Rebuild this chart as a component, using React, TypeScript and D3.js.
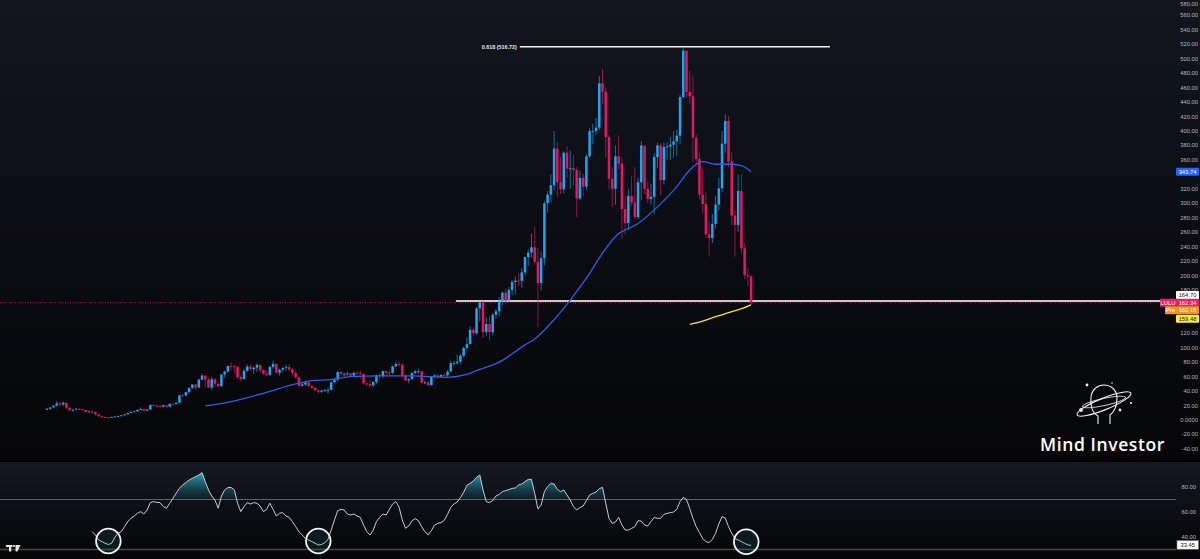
import React from 'react';
import * as d3 from 'd3';

// LULU monthly candles, Jul 2007 .. Sep 2025 (open = previous close)
const firstOpen = 14.0;
const closes = [
  15.6, 17.5, 19.8, 23.0, 21.5, 23.7,
  17.0, 13.5, 14.2, 15.5, 15.0, 13.8, 11.4, 11.8, 11.2, 8.0, 5.3, 4.0,
  3.5, 3.3, 4.3, 4.9, 5.6, 6.5, 7.9, 9.6, 11.3, 12.0, 13.9, 15.1,
  12.8, 14.4, 20.7, 20.0, 19.6, 18.3, 20.4, 18.4, 22.4, 22.2, 23.8, 34.2,
  33.8, 38.5, 44.5, 49.0, 45.0, 55.9, 61.5, 56.0, 45.0, 56.4, 50.0, 46.7,
  63.0, 67.0, 74.7, 74.5, 74.0, 59.3, 56.6, 68.0, 73.9, 70.5, 72.4, 76.2,
  68.9, 64.0, 62.4, 73.4, 77.7, 65.5, 69.6, 72.0, 73.1, 69.9, 65.0, 59.0,
  47.2, 49.2, 52.3, 47.0, 44.6, 40.9, 39.0, 40.6, 41.6, 41.8, 52.3, 55.8,
  66.5, 63.6, 63.9, 64.4, 61.5, 65.3, 64.7, 63.5, 50.7, 49.8, 48.0, 52.5,
  62.1, 60.7, 67.7, 65.6, 65.3, 74.4, 77.4, 76.4, 61.1, 54.7, 56.6, 65.0,
  67.4, 67.5, 51.9, 52.0, 48.2, 59.7, 61.8, 59.9, 62.3, 61.9, 67.0, 78.6,
  78.7, 80.7, 89.1, 99.8, 105.0, 124.8, 120.0, 154.4, 162.5, 121.7, 132.8, 121.6,
  145.7, 150.5, 163.9, 176.3, 165.3, 180.0, 191.0, 192.9, 192.5, 204.3, 225.5, 231.7,
  239.0, 219.0, 189.5, 224.0, 300.0, 312.0, 325.0, 375.6, 329.0, 319.3, 370.0, 348.0,
  348.4, 346.0, 306.6, 335.0, 323.0, 365.0, 399.9, 400.0, 404.7, 466.0, 454.4, 391.5,
  334.0, 320.0, 365.0, 355.0, 292.0, 272.6, 310.0, 301.0, 281.0, 329.0, 380.0, 320.0,
  306.0, 309.0, 364.0, 380.0, 332.0, 378.0, 378.6, 381.0, 385.6, 393.5, 447.0, 511.3,
  454.0, 448.0, 390.5, 361.0, 312.0, 299.0, 257.0, 252.0, 271.4, 298.1, 320.6, 382.4,
  414.0, 357.6, 283.0, 270.0, 317.0, 237.6, 200.6, 199.0, 162.34,
];
const highs = [
  16.2, 18.0, 20.5, 26.0, 24.5, 25.5,
  24.0, 17.5, 15.5, 17.0, 17.0, 15.8, 14.5, 13.0, 13.2, 11.5, 8.5, 5.8,
  4.6, 4.0, 4.6, 5.2, 6.0, 7.0, 8.4, 10.2, 12.0, 13.3, 15.0, 17.3,
  15.8, 14.8, 21.5, 22.0, 21.3, 20.8, 21.0, 20.8, 22.8, 23.3, 25.3, 35.0,
  36.0, 39.5, 45.0, 49.7, 49.8, 57.0, 64.2, 62.0, 58.5, 60.0, 58.0, 53.0,
  63.5, 68.5, 75.5, 79.6, 77.0, 72.0, 62.5, 71.0, 76.9, 77.0, 74.0, 78.5,
  76.5, 70.5, 68.2, 75.5, 82.5, 78.4, 71.0, 73.5, 76.5, 77.8, 71.8, 69.3,
  60.0, 52.0, 55.0, 53.5, 48.0, 46.0, 42.0, 42.5, 43.0, 45.0, 53.5, 58.5,
  67.0, 67.5, 66.0, 67.5, 64.5, 67.0, 67.5, 69.0, 64.5, 51.8, 55.0, 54.0,
  63.0, 65.0, 68.5, 68.0, 68.5, 75.0, 81.0, 81.0, 78.5, 63.0, 57.5, 66.7,
  69.0, 70.5, 67.0, 54.0, 54.5, 60.5, 63.5, 64.0, 63.5, 65.0, 69.0, 82.3,
  82.5, 90.5, 92.0, 101.5, 114.0, 130.0, 128.0, 157.0, 163.5, 165.0, 142.0, 144.0,
  148.0, 154.0, 170.0, 178.0, 182.0, 184.0, 194.0, 199.0, 204.0, 210.0, 226.5, 236.0,
  258.0, 267.0, 238.0, 233.0, 303.0, 317.0, 340.0, 399.9, 384.0, 364.0, 372.0, 379.0,
  373.0, 367.0, 350.0, 345.0, 341.0, 368.0, 404.0, 410.0, 418.0, 476.0, 485.8, 460.0,
  395.0, 350.0, 380.0, 394.0, 363.0, 310.0, 320.0, 337.0, 350.0, 335.0, 386.0, 379.0,
  330.0, 327.0, 369.0, 384.0, 383.0, 384.0, 384.0, 392.0, 400.0, 402.0, 450.0, 516.7,
  511.0, 483.0, 477.0, 395.0, 370.0, 348.0, 315.0, 275.0, 285.0, 310.0, 335.0, 400.0,
  423.0, 421.0, 370.0, 290.0, 340.0, 340.0, 245.0, 210.0, 200.0,
];
const lows = [
  13.8, 14.5, 16.8, 19.5, 18.5, 19.0,
  15.0, 12.5, 12.0, 13.6, 14.2, 13.0, 10.5, 10.5, 9.0, 6.0, 4.3, 3.3,
  3.1, 2.8, 2.9, 4.0, 4.6, 5.4, 6.3, 7.8, 9.4, 10.8, 11.8, 13.9,
  12.3, 12.4, 14.2, 18.6, 17.0, 16.2, 17.5, 17.6, 17.9, 20.5, 21.2, 23.5,
  31.5, 33.0, 36.8, 42.8, 42.0, 44.5, 54.7, 44.5, 44.0, 41.0, 45.0, 45.0,
  46.5, 59.0, 65.0, 68.3, 64.5, 56.4, 54.0, 56.0, 67.5, 68.3, 63.5, 66.5,
  66.0, 62.5, 61.2, 61.0, 71.0, 64.0, 61.5, 66.0, 68.0, 67.4, 61.6, 57.5,
  46.5, 46.3, 47.0, 45.5, 43.3, 40.4, 36.3, 37.5, 38.8, 36.3, 41.0, 51.0,
  53.5, 60.5, 60.3, 60.8, 59.0, 59.5, 61.5, 57.3, 48.7, 46.5, 44.5, 45.0,
  50.5, 56.0, 58.0, 61.5, 60.5, 63.5, 73.0, 74.0, 58.7, 54.1, 50.5, 55.4,
  63.0, 63.5, 49.0, 49.5, 47.0, 48.2, 58.7, 57.3, 59.3, 58.3, 59.7, 66.5,
  74.8, 76.5, 77.5, 86.5, 96.0, 106.0, 117.0, 118.0, 136.0, 113.5, 116.0, 110.0,
  117.0, 140.0, 143.0, 159.0, 161.0, 163.0, 173.0, 174.0, 185.0, 183.0, 200.0, 213.0,
  225.0, 215.0, 128.9, 179.0, 214.0, 287.0, 301.0, 318.0, 309.0, 313.0, 314.0, 335.0,
  320.0, 325.0, 281.0, 305.0, 310.0, 318.0, 363.0, 382.0, 395.0, 401.0, 437.0, 363.0,
  319.0, 295.0, 298.0, 347.0, 251.0, 257.0, 263.0, 296.0, 278.0, 278.0, 305.0, 313.0,
  300.0, 298.0, 285.0, 348.0, 311.0, 326.0, 360.0, 360.0, 363.0, 366.0, 382.0, 446.0,
  446.0, 438.0, 357.0, 352.0, 305.0, 287.0, 252.0, 226.0, 245.0, 265.0, 290.0, 315.0,
  370.0, 350.0, 270.0, 226.0, 260.0, 230.0, 195.0, 185.0, 159.9,
];

// RSI(14), first value at candle 14
const rsiStart = 14;
const rsiValues = [
  44.3, 41.6, 37.6, 36.3, 35, 34, 35, 39.7, 43, 44.3, 48.3, 52.3, 55, 56.8, 59, 60.3,
  58.4, 61.6, 67.5, 68.3, 67.7, 67.5, 64.3, 63, 67, 71, 75, 79, 81.6, 83.5, 85.6, 87,
  88.3, 89.6, 91.5, 84.3, 77.6, 72.8, 69.6, 63, 72.8, 77.6, 79.5, 79.7, 77.6, 67, 60.3, 64.3,
  67.5, 66.4, 67.5, 67, 64.8, 60.3, 62.1, 67, 62.1, 56.8, 59, 59.5, 56.8, 55.7, 52.3, 48.3,
  44.3, 41.6, 39, 37.6, 36.3, 35, 33.6, 34, 35.5, 38, 45.6, 53.6, 61, 62.1, 61.6, 58.4,
  57.6, 58.4, 56.8, 55.7, 49.6, 44.3, 41.6, 45.6, 52.3, 55.7, 58.4, 57.6, 62.1, 66.4, 68.3,
  64, 53.6, 47, 48.8, 53, 54.7, 53, 48.3, 44.3, 41.6, 45.1, 49.6, 50.9, 51.5, 53.3, 58.1,
  63.7, 66.4, 68, 71.5, 75.7, 81.3, 82.9, 84.8, 87.7, 89.6, 77.6, 68.3, 67.5, 69.1, 72.8, 74.1,
  76.3, 77.1, 77.9, 78.9, 79.2, 81.6, 82.4, 84.3, 86.1, 86.1, 74.9, 62.4, 65.6, 76.3, 80.3, 82.9,
  82.4, 78.1, 76.3, 77.6, 73.6, 69.6, 64.3, 61.6, 63.5, 64.8, 69.1, 73.6, 74.9, 76, 78.7, 79.7,
  66.9, 54.9, 50.9, 52, 55.7, 49.6, 45.6, 45.6, 46.9, 48.3, 53, 52.8, 49.6, 48.8, 52.3, 55.7,
  54.9, 54.9, 58.1, 58.9, 59.5, 60, 62.1, 68.3, 71.7, 70.1, 62.9, 54.9, 48.3, 43.5, 38.9, 36.3,
  35.5, 38.1, 42.9, 50.4, 56.3, 55.2, 48.3, 42.9, 38.9, 37.6, 36.3, 35, 33.6, 33.45,
];

// moving averages: [candle, value]
const ma50Points: [number, number][] = [
  [49, 19.4], [57, 25.5], [67, 37], [77, 50], [82, 54.5], [88, 56], [94, 60], [103, 61],
  [113, 61], [124, 59], [129, 62], [134, 70], [140, 80], [148, 104], [151, 112], [156, 134],
  [162, 166], [168, 203], [172, 231], [176, 254], [183, 272], [189, 295], [195, 323],
  [199, 346], [203, 357.5], [207, 354], [211, 354], [215, 352], [218, 343.74],
];
const ma200Points: [number, number][] = [
  [199, 132.4], [203, 137], [207, 143], [211, 148.5], [215, 154], [218, 159.48],
];

const priceTicks = [580, 560, 540, 520, 500, 480, 460, 440, 420, 400, 380, 360, 320, 300, 280,
  260, 240, 220, 200, 180, 120, 100, 80, 60, 40, 20, 0, -20, -40];
const rsiTicks = [80, 60, 40];
const rsiLevels = [70, 30];

const fibLevel = 516.72;
const fibLabel = '0.618 (516.72)';
const fibSpan = [146.4, 242.4];
const supportLevel = 164.70;
const supportStart = 126.6;
const lastPrice = 162.34;
const prePrice = 162.16;
const ma50Last = 343.74;
const ma200Last = 159.48;
const rsiLast = 33.45;
// circled RSI lows: [candle, rsi]
const rsiCircles: [number, number][] = [[19, 36.8], [84, 36.8], [216.5, 36.2]];

const W = 1200;
const H = 559;
const mainBottom = 460;
const rsiTop = 462;
const plotRight = 1176;
const upColor = '#27a3ec';
const downColor = '#e3195f';
const axisFont = 'Liberation Sans, DejaVu Sans, sans-serif';

const x = d3.scaleLinear().domain([0, 218]).range([47, 751.1]);
const y = d3.scaleLinear().domain([0, 580]).range([420, 0.95]);
const yR = d3.scaleLinear().domain([30, 80]).range([549.5, 487]);

const opens = closes.map((c, i) => (i === 0 ? firstOpen : closes[i - 1]));

const Tag = ({cy, text, bg, fg, x0 = plotRight, w = 23}:
  {cy: number, text: string, bg: string, fg: string, x0?: number, w?: number}) => (
  <g>
    <rect x={x0} y={cy - 4} width={w} height={8} fill={bg} rx={0.8}/>
    <text x={x0 + w / 2} y={cy + 2} fontSize={5.8} fill={fg} textAnchor="middle" fontFamily={axisFont}>{text}</text>
  </g>
);

const App = () => {
  const maLine = d3.line<[number, number]>().x(d => x(d[0])).y(d => y(d[1])).curve(d3.curveMonotoneX);
  const rsiPts = rsiValues.map((v, i) => [rsiStart + i, v] as [number, number]);
  const rsiLine = d3.line<[number, number]>().x(d => x(d[0])).y(d => yR(d[1]));
  const rsiArea = d3.area<[number, number]>().x(d => x(d[0])).y0(yR(70)).y1(d => yR(Math.max(d[1], 70)));
  const lastY = y(lastPrice);

  return (
    <svg width={W} height={H} style={{position: 'absolute', left: 0, top: 0, display: 'block'}}>
      <defs>
        <linearGradient id="bgMain" x1="0" y1="0" x2="0" y2="1">
          <stop offset="0" stopColor="#13161f"/>
          <stop offset="0.45" stopColor="#0c0e15"/>
          <stop offset="1" stopColor="#060608"/>
        </linearGradient>
        <linearGradient id="bgRsi" x1="0" y1="0" x2="0" y2="1">
          <stop offset="0" stopColor="#141823"/>
          <stop offset="1" stopColor="#050506"/>
        </linearGradient>
        <linearGradient id="obFill" gradientUnits="userSpaceOnUse" x1="0" y1={yR(92)} x2="0" y2={yR(70)}>
          <stop offset="0" stopColor="#2fb4c8" stopOpacity={0.95}/>
          <stop offset="1" stopColor="#1a5562" stopOpacity={0.15}/>
        </linearGradient>
      </defs>
      <rect width={W} height={H} fill="#000"/>
      <rect width={W} height={mainBottom} fill="url(#bgMain)"/>
      <rect y={rsiTop} width={W} height={H - rsiTop} fill="url(#bgRsi)"/>

      {/* price axis */}
      {priceTicks.map(t => (
        <text key={t} x={1198} y={Math.max(y(t) + 2, 5.5)} fontSize={5.8} fill="#b2b5be" textAnchor="end" fontFamily={axisFont}>
          {t === 0 ? '0.0000' : t.toFixed(2)}
        </text>
      ))}

      {/* fib level */}
      <line x1={x(fibSpan[0])} x2={x(fibSpan[1])} y1={y(fibLevel)} y2={y(fibLevel)} stroke="#f2f2f2" strokeWidth={1.5}/>
      <text x={x(fibSpan[0]) - 3} y={y(fibLevel) + 2} fontSize={5.4} fontWeight="bold" fill="#e8e8e8" textAnchor="end" fontFamily={axisFont}>{fibLabel}</text>

      {/* support + last price lines */}
      <line x1={0} x2={1160} y1={lastY} y2={lastY} stroke="#b0284f" strokeWidth={1} strokeDasharray="1 1.5" opacity={0.85}/>
      <line x1={x(supportStart)} x2={1160} y1={y(supportLevel)} y2={y(supportLevel)} stroke="#c9c9c9" strokeWidth={1.8}/>

      {/* candles */}
      {closes.map((c, i) => {
        const o = opens[i];
        const col = c >= o ? upColor : downColor;
        const cx = x(i);
        const top = y(Math.max(o, c));
        const bh = Math.max(0.9, y(Math.min(o, c)) - top);
        return (
          <g key={i}>
            <line x1={cx} x2={cx} y1={y(highs[i])} y2={y(lows[i])} stroke={col} strokeWidth={0.75} opacity={0.85}/>
            <rect x={cx - 1.25} y={top} width={2.5} height={bh} fill={col}/>
          </g>
        );
      })}

      {/* moving averages */}
      <path d={maLine(ma50Points) || ''} fill="none" stroke="#2f5ce8" strokeWidth={1.3}/>
      <path d={maLine(ma200Points) || ''} fill="none" stroke="#f5e13a" strokeWidth={1.3}/>

      {/* price tags */}
      <Tag cy={y(ma50Last)} text={ma50Last.toFixed(2)} bg="#2962ff" fg="#fff"/>
      <Tag cy={lastY - 7.7} text={supportLevel.toFixed(2)} bg="#ffffff" fg="#131722"/>
      <Tag cy={lastY} text={lastPrice.toFixed(2)} bg="#e91e63" fg="#fff"/>
      <Tag cy={lastY} text="LULU" bg="#e91e63" fg="#fff" x0={1160} w={16}/>
      <Tag cy={lastY + 7.5} text={prePrice.toFixed(2)} bg="#f5921e" fg="#fff"/>
      <Tag cy={lastY + 7.5} text="Pre" bg="#f5921e" fg="#fff" x0={1165} w={11}/>
      <Tag cy={lastY + 16} text={ma200Last.toFixed(2)} bg="#ffeb3b" fg="#131722"/>

      {/* logo */}
      <g stroke="#f0f0f0" fill="none" strokeWidth={1.1}>
        <path d="M1098,424 L1098,416 C1092,413 1090,405 1091,397 C1092,389 1098,385 1104,385 C1111,385 1117,390 1117,398 C1117,406 1114,412 1110,415 L1110,424"/>
        <ellipse cx={1104} cy={404} rx={29} ry={5.8} transform="rotate(-22 1104 404)"/>
        <ellipse cx={1104} cy={402} rx={22} ry={3.6} transform="rotate(-12 1104 402)" opacity={0.8}/>
      </g>
      <g fill="#f0f0f0">
        <circle cx={1087} cy={385} r={1.4}/>
        <circle cx={1112} cy={383} r={0.8}/>
        <circle cx={1131} cy={403} r={1.1}/>
        <circle cx={1120} cy={410} r={1.4}/>
        <circle cx={1081} cy={410} r={1.9}/>
      </g>
      <text x={1040} y={451} fontSize={17.5} fontWeight={600} fill="#ffffff" fontFamily="Open Sans, sans-serif" letterSpacing={0.6}>Mind Investor</text>

      {/* RSI pane */}
      {rsiLevels.map(l => (
        <line key={l} x1={0} x2={plotRight} y1={yR(l)} y2={yR(l)} stroke={l === 70 ? '#5d6069' : '#45464b'} strokeWidth={l === 70 ? 1 : 1.4}/>
      ))}
      <clipPath id="obClip">
        <rect x={0} y={rsiTop} width={plotRight} height={yR(70) - rsiTop}/>
      </clipPath>
      <path d={rsiArea(rsiPts) || ''} fill="url(#obFill)" clipPath="url(#obClip)"/>
      <path d={rsiLine(rsiPts) || ''} fill="none" stroke="#c9cbd0" strokeWidth={1}/>
      {rsiCircles.map(([i, v]) => (
        <circle key={i} cx={x(i)} cy={yR(v)} r={12.3} fill="#2aa4b0" fillOpacity={0.12} stroke="#f4f4f4" strokeWidth={1.8}/>
      ))}
      {rsiTicks.map(t => (
        <text key={t} x={1196} y={yR(t) + 2} fontSize={5.8} fill="#b2b5be" textAnchor="end" fontFamily={axisFont}>{t.toFixed(2)}</text>
      ))}
      <rect x={1177} y={yR(rsiLast) - 4.5} width={21.5} height={8.5} fill="#ffffff" stroke="#8a8a8a" strokeWidth={0.6}/>
      <text x={1187.7} y={yR(rsiLast) + 1.8} fontSize={5.8} fill="#131722" textAnchor="middle" fontFamily={axisFont}>{rsiLast.toFixed(2)}</text>

      {/* TradingView mark */}
      <g fill="#e6e6e6">
        <rect x={6} y={545} width={6.5} height={2}/>
        <rect x={9} y={545} width={2.2} height={6.5}/>
        <circle cx={14} cy={546} r={1.1}/>
        <path d="M15.5,545 L20.5,545 L17.3,551.5 L15.6,551.5 Z"/>
      </g>
    </svg>
  );
};

export default App;
